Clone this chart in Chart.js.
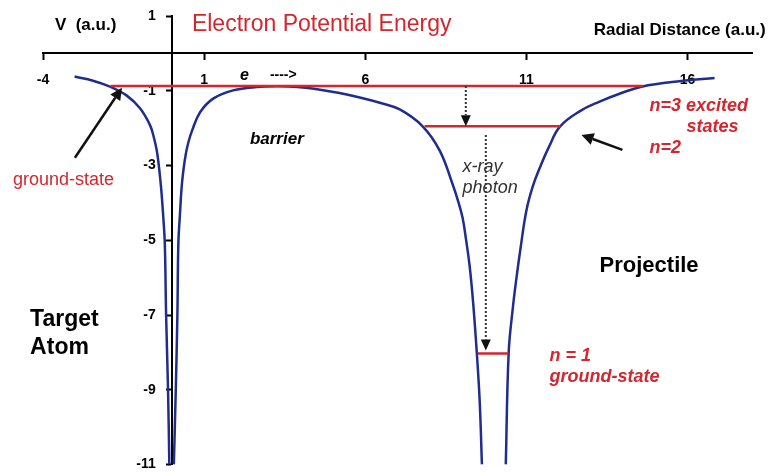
<!DOCTYPE html>
<html><head><meta charset="utf-8">
<script src="https://cdn.jsdelivr.net/npm/chart.js@4/dist/chart.umd.min.js"></script>
<style>html,body{margin:0;padding:0;background:#fff;}canvas{display:block;}</style>
</head><body>
<canvas id="c" width="775" height="476"></canvas>
<script>
// ---- data ----
const xTickValues = [-4, 1, 6, 11, 16];
const yTickValues = [1, -1, -3, -5, -7, -9, -11];

// electron potential energy curve (null = break at the bottom of each well)
const potX = [-3.02, -2.45, -1.92, -1.40, -0.99, -0.68, -0.56, -0.47, -0.40, -0.33, -0.27, -0.22, -0.18, -0.12, -0.08,
  null,
  0.06, 0.12, 0.17, 0.20, 0.25, 0.30, 0.36, 0.44, 0.52, 0.62, 0.87, 1.28, 1.90, 2.63, 3.30, 3.90, 4.60, 5.20, 5.83, 6.45, 7.07, 7.78, 8.31, 8.71, 8.88, 9.02, 9.13, 9.24, 9.35, 9.46, 9.55, 9.62,
  null,
  10.36, 10.45, 10.58, 10.70, 10.82, 11.00, 11.20, 11.42, 11.70, 12.04, 12.65, 13.27, 13.89, 14.57, 15.80, 16.84];
const potY = [-0.62, -0.73, -0.89, -1.13, -1.47, -1.92, -2.25, -2.60, -3.05, -3.65, -4.35, -5.10, -7.00, -9.00, -11.0,
  null,
  -11.0, -9.00, -7.00, -5.10, -4.30, -3.60, -3.10, -2.65, -2.35, -2.08, -1.58, -1.21, -0.99, -0.90, -0.88, -0.90, -0.97, -1.06, -1.18, -1.32, -1.50, -1.95, -2.60, -3.50, -3.95, -4.40, -5.00, -5.70, -6.70, -8.00, -9.30, -11.0,
  null,
  -11.0, -8.00, -6.80, -5.95, -5.20, -4.20, -3.55, -3.05, -2.50, -1.96, -1.55, -1.29, -1.08, -0.89, -0.74, -0.66];

// energy levels
const levelNames = ['n=3', 'n=2', 'n=1'];
const levelY = [-0.87, -1.95, -8.03];
const levelXStart = [-1.90, 7.84, 9.49];
const levelXEnd = [14.60, 12.06, 10.45];

// ---- styling ----
const FONT = "'Liberation Sans', Arial, Helvetica, sans-serif";
const BLUE = '#1f2d8e';
const RED = '#d4262e';

const texts = [
  {t: 'V  (a.u.)', x: -3.63, y: 0.76, f: 'bold 17px', c: '#000'},
  {t: 'Electron Potential Energy', x: 0.62, y: 0.76, f: '23px', c: RED},
  {t: 'Radial Distance (a.u.)', x: 13.09, y: 0.63, f: 'bold 17px', c: '#000'},
  {t: 'e', x: 2.11, y: -0.60, f: 'italic bold 16px', c: '#000'},
  {t: '---->', x: 3.04, y: -0.58, f: 'bold 14px', c: '#000'},
  {t: 'barrier', x: 2.42, y: -2.29, f: 'italic bold 17px', c: '#000'},
  {t: 'x-ray', x: 9.02, y: -3.05, f: 'italic 18px', c: '#333'},
  {t: 'photon', x: 9.02, y: -3.60, f: 'italic 18px', c: '#333'},
  {t: 'n=3 excited', x: 14.82, y: -1.42, f: 'italic bold 18px', c: RED},
  {t: 'states', x: 15.97, y: -1.97, f: 'italic bold 18px', c: RED},
  {t: 'n=2', x: 14.82, y: -2.53, f: 'italic bold 18px', c: RED},
  {t: 'ground-state', x: -4.93, y: -3.39, f: '18px', c: RED},
  {t: 'Projectile', x: 13.27, y: -5.68, f: 'bold 22px', c: '#000'},
  {t: 'Target', x: -4.40, y: -7.13, f: 'bold 23px', c: '#000'},
  {t: 'Atom', x: -4.40, y: -7.87, f: 'bold 23px', c: '#000'},
  {t: 'n = 1', x: 11.72, y: -8.10, f: 'italic bold 18px', c: RED},
  {t: 'ground-state', x: 11.72, y: -8.66, f: 'italic bold 18px', c: RED}
];
const arrows = [
  {x1: 9.12, y1: -0.87, x2: 9.12, y2: -1.95, dotted: true},
  {x1: 9.74, y1: -2.18, x2: 9.74, y2: -7.95, dotted: true},
  {x1: -3.01, y1: -2.79, x2: -1.55, y2: -0.92, dotted: false},
  {x1: 13.98, y1: -2.58, x2: 12.71, y2: -2.18, dotted: false}
];

const annotate = {
  id: 'annotate',
  afterDraw(chart) {
    const ctx = chart.ctx, xs = chart.scales.x, ys = chart.scales.y;
    ctx.save();
    ctx.textAlign = 'left';
    ctx.textBaseline = 'middle';
    texts.forEach(a => {
      ctx.font = a.f + ' ' + FONT;
      ctx.fillStyle = a.c;
      ctx.fillText(a.t, xs.getPixelForValue(a.x), ys.getPixelForValue(a.y));
    });
    arrows.forEach(a => {
      const x1 = xs.getPixelForValue(a.x1), y1 = ys.getPixelForValue(a.y1);
      const x2 = xs.getPixelForValue(a.x2), y2 = ys.getPixelForValue(a.y2);
      const ang = Math.atan2(y2 - y1, x2 - x1);
      const hl = a.dotted ? 11 : 12, hw = a.dotted ? 5 : 6;
      const bx = x2 - hl * Math.cos(ang), by = y2 - hl * Math.sin(ang);
      ctx.strokeStyle = a.dotted ? '#333' : '#111';
      ctx.fillStyle = '#111';
      ctx.lineWidth = a.dotted ? 2 : 2.5;
      ctx.setLineDash(a.dotted ? [2, 2] : []);
      ctx.beginPath(); ctx.moveTo(x1, y1); ctx.lineTo(bx, by); ctx.stroke();
      ctx.setLineDash([]);
      ctx.beginPath();
      ctx.moveTo(x2, y2);
      ctx.lineTo(bx + hw * Math.sin(ang), by - hw * Math.cos(ang));
      ctx.lineTo(bx - hw * Math.sin(ang), by + hw * Math.cos(ang));
      ctx.closePath(); ctx.fill();
    });
    ctx.restore();
  }
};

// split the potential curve into its separate branches at the nulls
const potSegments = [[]];
potX.forEach((x, i) => {
  if (x === null || potY[i] === null) { potSegments.push([]); }
  else { potSegments[potSegments.length - 1].push({x: x, y: potY[i]}); }
});
const potSets = potSegments.map((seg, i) => ({
  label: 'V' + i, data: seg, borderColor: BLUE, borderWidth: 2.5, pointRadius: 0,
  tension: 0.4, order: 1
}));
const levelSets = levelY.map((y, i) => ({
  label: levelNames[i],
  data: [{x: levelXStart[i], y: y}, {x: levelXEnd[i], y: y}],
  borderColor: RED, borderWidth: 2.5, pointRadius: 0, order: 0
}));

const tickFont = {family: FONT, size: 14, weight: 'bold'};

new Chart(document.getElementById('c'), {
  type: 'line',
  data: {datasets: [...potSets, ...levelSets]},
  options: {
    responsive: false, animation: false,
    layout: {padding: {left: 43, right: 23, top: 16, bottom: 4}},
    plugins: {legend: {display: false}, tooltip: {enabled: false}, title: {display: false}},
    scales: {
      x: {
        type: 'linear', position: {y: 0}, min: -4, max: 18,
        afterBuildTicks: s => { s.ticks = xTickValues.map(v => ({value: v})); },
        afterFit: s => { s.height = 0; },
        grid: {display: true, drawOnChartArea: false, drawTicks: true, tickLength: 6, tickWidth: 2, tickColor: '#000'},
        border: {display: true, color: '#000', width: 2},
        ticks: {font: tickFont, color: '#000', padding: 12, autoSkip: false, maxRotation: 0}
      },
      y: {
        type: 'linear', position: {x: 0}, min: -11, max: 1,
        afterBuildTicks: s => { s.ticks = yTickValues.map(v => ({value: v})); },
        afterFit: s => { s.width = 0; },
        grid: {display: true, drawOnChartArea: false, drawTicks: true, tickLength: 5, tickWidth: 2, tickColor: '#000'},
        border: {display: true, color: '#000', width: 2},
        ticks: {display: false}
      },
      yl: {
        axis: 'y', type: 'linear', position: {x: -0.5}, min: -11, max: 1,
        afterBuildTicks: s => { s.ticks = yTickValues.map(v => ({value: v})); },
        afterFit: s => { s.width = 0; },
        grid: {display: false},
        border: {display: false},
        ticks: {font: tickFont, color: '#000', autoSkip: false}
      }
    }
  },
  plugins: [annotate]
});
</script>
</body></html>
